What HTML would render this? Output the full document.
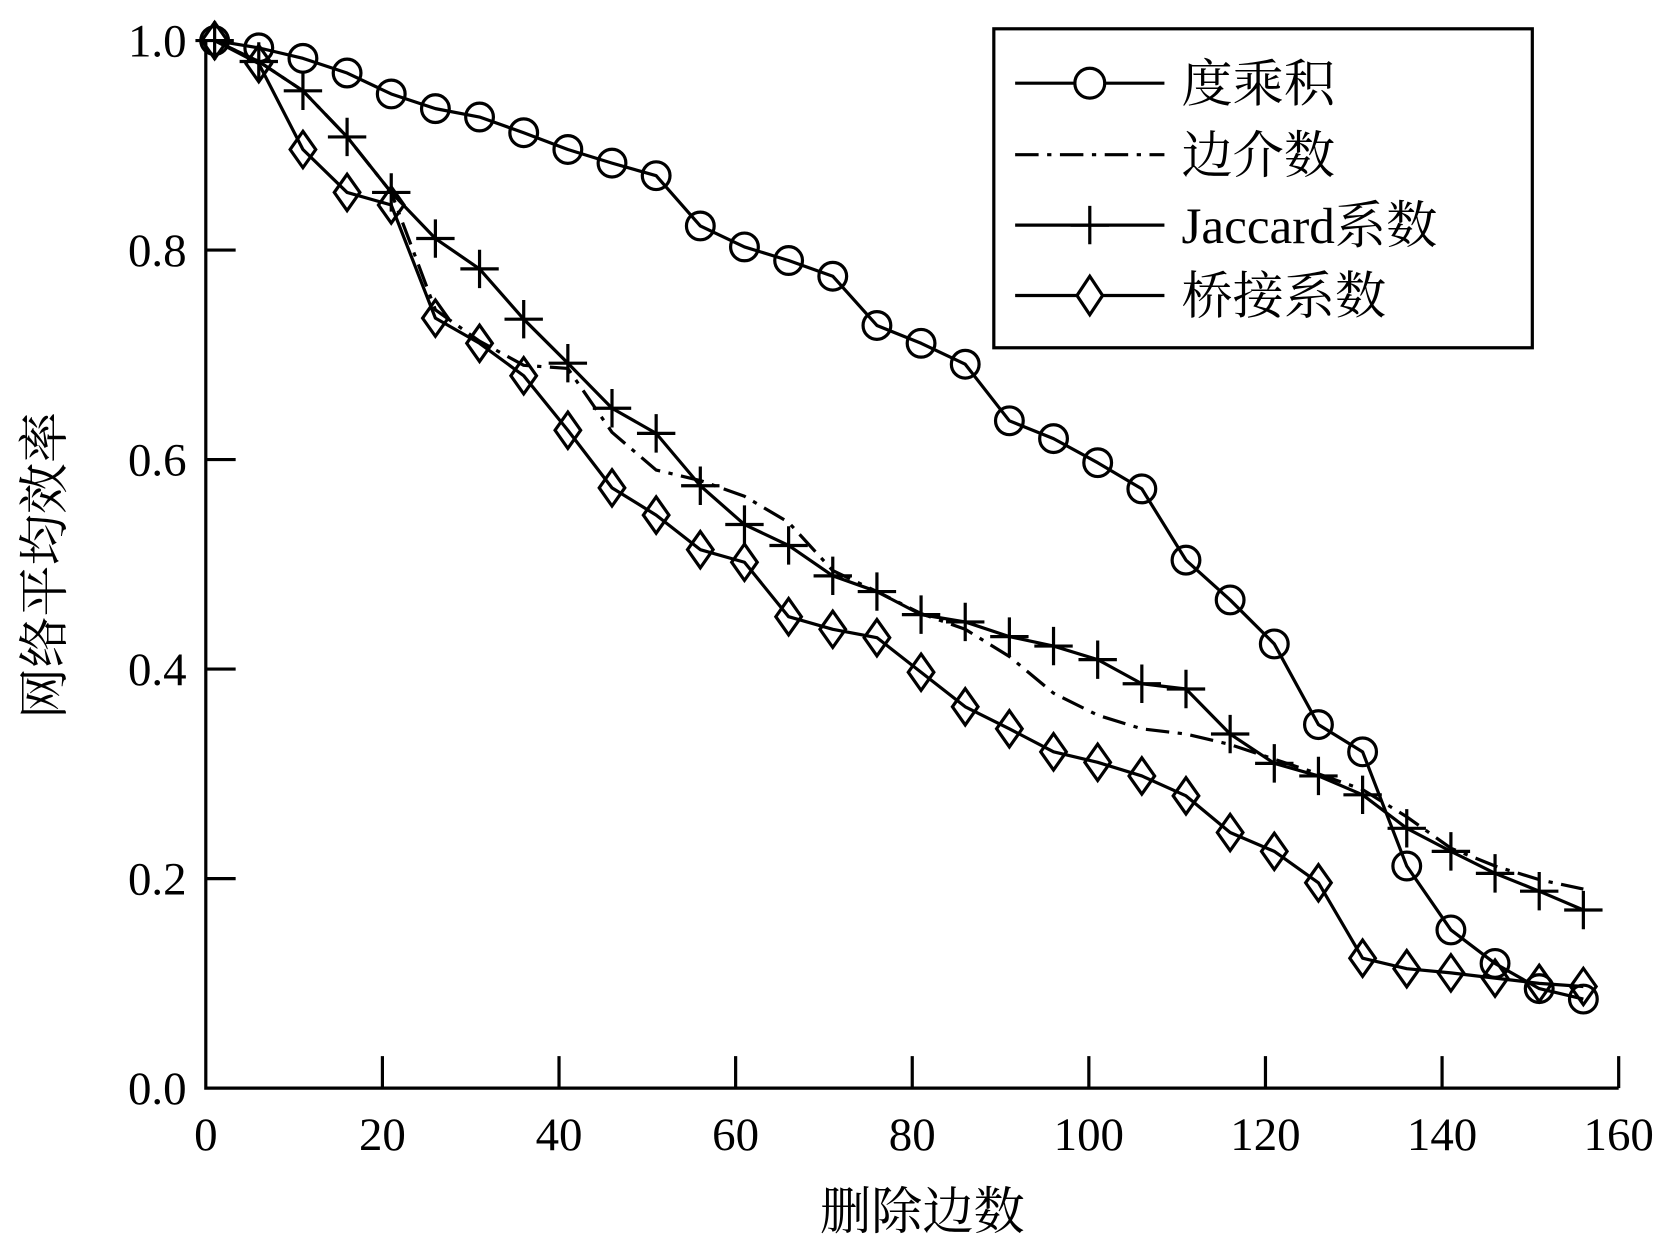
<!DOCTYPE html>
<html><head><meta charset="utf-8"><style>
html,body{margin:0;padding:0;background:#fff;}
svg{display:block;}
text{font-family:"Liberation Serif","Noto Serif CJK SC",serif;fill:#000;}
</style></head><body>
<svg id="chart" width="1672" height="1246" viewBox="0 0 1568 1168" preserveAspectRatio="none" xmlns="http://www.w3.org/2000/svg">
<g id="axes"></g>
<g id="series"></g>
<g>
<rect x="932" y="27" width="505" height="299" fill="#fff" stroke="#000" stroke-width="3"/>
<g>
<line x1="952" y1="78" x2="1092" y2="78" stroke="#000" stroke-width="3"/>
<circle cx="1022" cy="78" r="14" fill="#fff" stroke="#000" stroke-width="3"/>
<text x="1108" y="95" font-size="48">度乘积</text></g>
<g>
<line x1="952" y1="145" x2="1092" y2="145" stroke="#000" stroke-width="3" stroke-dasharray="22,8,4,8"/>
<text x="1108" y="162" font-size="48">边介数</text></g>
<g>
<line x1="952" y1="211" x2="1092" y2="211" stroke="#000" stroke-width="3"/>
<path d="M1022 193V229M1004 211H1040" stroke="#000" stroke-width="3"/>
<text x="1108" y="228" font-size="48">Jaccard系数</text></g>
<g>
<line x1="952" y1="277" x2="1092" y2="277" stroke="#000" stroke-width="3"/>
<path d="M1022 259L1034 277L1022 295L1010 277Z" fill="#fff" stroke="#000" stroke-width="3"/>
<text x="1108" y="294" font-size="48">桥接系数</text></g>
</g>
<text x="865" y="1152" font-size="48" text-anchor="middle">删除边数</text>
<text transform="translate(58,530) rotate(-90)" font-size="48" text-anchor="middle">网络平均效率</text>
<script>
const xValues=[1,6,11,16,21,26,31,36,41,46,51,56,61,66,71,76,81,86,91,96,101,106,111,116,121,126,131,136,141,146,151,156];
const degreeProduct=[1.0,0.993,0.983,0.969,0.949,0.935,0.927,0.912,0.896,0.883,0.871,0.823,0.803,0.790,0.775,0.728,0.711,0.691,0.637,0.620,0.597,0.572,0.504,0.466,0.424,0.347,0.321,0.212,0.151,0.119,0.095,0.085];
const edgeBetweenness=[1.0,0.98,0.952,0.908,0.855,0.743,0.713,0.690,0.687,0.626,0.590,0.580,0.565,0.540,0.494,0.474,0.453,0.438,0.412,0.377,0.356,0.343,0.338,0.328,0.314,0.300,0.285,0.259,0.229,0.212,0.199,0.190];
const jaccard=[1.0,0.98,0.952,0.908,0.855,0.811,0.782,0.734,0.692,0.649,0.625,0.575,0.538,0.518,0.489,0.474,0.452,0.445,0.431,0.422,0.409,0.386,0.381,0.338,0.310,0.298,0.280,0.248,0.226,0.205,0.188,0.170];
const bridge=[1.0,0.978,0.896,0.855,0.843,0.735,0.711,0.680,0.628,0.573,0.547,0.514,0.502,0.450,0.438,0.430,0.397,0.364,0.343,0.321,0.311,0.298,0.279,0.244,0.226,0.196,0.124,0.114,0.110,0.105,0.100,0.097];
const xTicks=[0,20,40,60,80,100,120,140,160];
const yTicks=[0.0,0.2,0.4,0.6,0.8,1.0];
const yTickLabels=["0.0","0.2","0.4","0.6","0.8","1.0"];

const NS="http://www.w3.org/2000/svg";
const X0=193,X1=1518,Y0=1020,Y1=38;
function sx(v){return X0+(v-0)/(160-0)*(X1-X0);}
function sy(v){return Y0-(v-0)/(1-0)*(Y0-Y1);}
function mk(tag,attrs,parent){const e=document.createElementNS(NS,tag);for(const k in attrs)e.setAttribute(k,attrs[k]);parent.appendChild(e);return e;}
const axes=document.getElementById('axes');
const ser=document.getElementById('series');
let e;
e=mk('path',{d:`M${X0} ${Y1}V${Y0}H${X1}`,fill:'none',stroke:'#000','stroke-width':3},axes);


xTicks.forEach(t=>{
  if(t>0){e=mk('line',{x1:sx(t),x2:sx(t),y1:Y0,y2:Y0-30,stroke:'#000','stroke-width':3},axes);
  
  }
  e=mk('text',{x:sx(t),y:Y0+58,'font-size':44,'text-anchor':'middle'},axes);
  e.textContent=String(t);
  
  
});
yTicks.forEach((t,i)=>{
  if(t>0&&t<1){e=mk('line',{x1:X0,x2:X0+28,y1:sy(t),y2:sy(t),stroke:'#000','stroke-width':3},axes);
  
  }
  e=mk('text',{x:X0-18,y:sy(t)+15,'font-size':44,'text-anchor':'end'},axes);
  e.textContent=yTickLabels[i];
  
  
});
function line(vals,name,dash){
  const d=vals.map((v,i)=>(i?'L':'M')+sx(xValues[i])+' '+sy(v)).join('');
  const a={d:d,fill:'none',stroke:'#000','stroke-width':3,'stroke-linejoin':'round'};
  if(dash)a['stroke-dasharray']=dash;
  e=mk('path',a,ser);
  
  
}
line(edgeBetweenness,'line-edge-betweenness','22,8,4,8');
line(jaccard,'line-jaccard');
line(bridge,'line-bridge');
line(degreeProduct,'line-degree-product');
jaccard.forEach((v,i)=>{const x=sx(xValues[i]),y=sy(v);
  e=mk('path',{d:`M${x} ${y-18}V${y+18}M${x-18} ${y}H${x+18}`,stroke:'#000','stroke-width':3},ser);
  
  });
bridge.forEach((v,i)=>{const x=sx(xValues[i]),y=sy(v);
  e=mk('path',{d:`M${x} ${y-17}L${x+12} ${y}L${x} ${y+17}L${x-12} ${y}Z`,fill:'none',stroke:'#000','stroke-width':3},ser);
  
  });
degreeProduct.forEach((v,i)=>{
  e=mk('circle',{cx:sx(xValues[i]),cy:sy(v),r:13,fill:'none',stroke:'#000','stroke-width':3},ser);
  
  });
</script>
</svg>
</body></html>
